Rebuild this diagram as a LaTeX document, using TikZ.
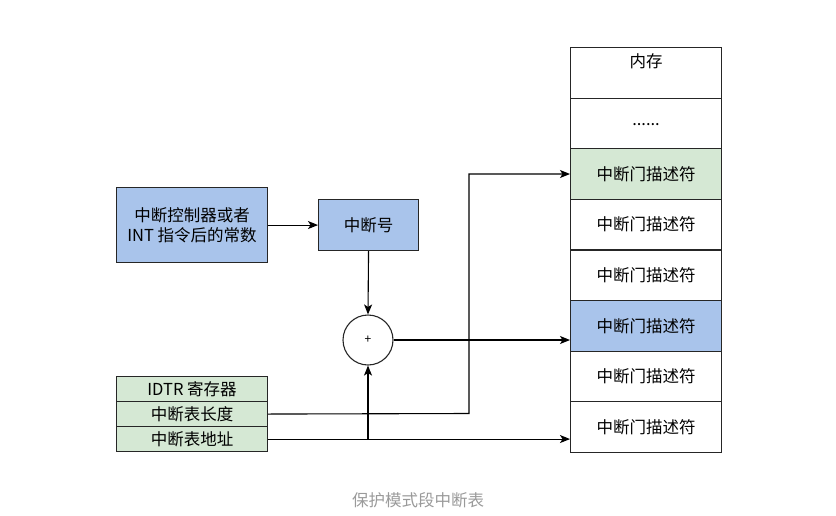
\documentclass[tikz,border=0pt]{standalone}
\usepackage{fontspec}
\setmainfont{Noto Sans CJK SC}
\usetikzlibrary{arrows.meta}
\definecolor{bluefill}{HTML}{A9C4EB}
\definecolor{greenfill}{HTML}{D5E8D4}
\definecolor{captiongray}{HTML}{9A9A9A}
\begin{document}
\begin{tikzpicture}[x=1pt,y=-1pt,
  every node/.style={font=\fontsize{16.5}{19.5}\selectfont, inner sep=0pt},
  box/.style={draw=black!85, line width=1.1pt, minimum width=#1, anchor=north west},
  memrow/.style={box=151pt, minimum height=50.6pt},
  conn/.style={line width=1.1pt, -{Stealth[length=10pt,width=8pt,inset=2.5pt]}},
  plain/.style={line width=1.1pt}
]
\useasboundingbox (0,0) rectangle (836,515);
% memory column
\node[memrow, label={[anchor=north, yshift=-6pt, font=\fontsize{16.5}{19.5}\selectfont]north:内存}] (m1) at (570,47) {};
\node[memrow] (m2) at (570,97.6) {\raisebox{-5pt}{......}};
\node[memrow, fill=greenfill] (m3) at (570,148.2) {中断门描述符};
\node[memrow] (m4) at (570,198.8) {中断门描述符};
\node[memrow] (m5) at (570,249.4) {中断门描述符};
\node[memrow, fill=bluefill] (m6) at (570,300) {中断门描述符};
\node[memrow] (m7) at (570,350.6) {中断门描述符};
\node[memrow] (m8) at (570,401.2) {中断门描述符};
% source box
\node[box=151pt, minimum height=75pt, fill=bluefill, align=center] (src) at (116,187) {中断控制器或者\\INT 指令后的常数};
\node[box=100pt, minimum height=51pt, fill=bluefill] (num) at (318,199) {中断号};
% adder
\node[draw=black!85, line width=1.1pt, circle, minimum size=50pt, font=\fontsize{12}{14}\selectfont] (add) at (368,340) {+};
% IDTR
\node[box=151pt, minimum height=25pt, fill=greenfill] (idtr) at (116,376) {IDTR 寄存器};
\node[box=151pt, minimum height=25pt, fill=greenfill] (len) at (116,401) {中断表长度};
\node[box=151pt, minimum height=25pt, fill=greenfill] (base) at (116,426) {中断表地址};
\coordinate (j) at (368,438.5);
% connectors
\draw[conn] (src.east) -- (num.west);
\draw[conn] (num.south) -- (add.north);
\draw[conn] (add.east) -- (add.east -| m6.west);
\draw[conn] (len.east) -- (469,413.5) -- (469,174) -- (570,174);
\draw[conn] (base.east) -- (base.east -| m8.west);
\draw[conn] (j) -- (add.south);
% caption
\node[text=captiongray, font=\fontsize{16.5}{19.5}\selectfont] (cap) at (418,500) {保护模式段中断表};
\end{tikzpicture}
\end{document}
